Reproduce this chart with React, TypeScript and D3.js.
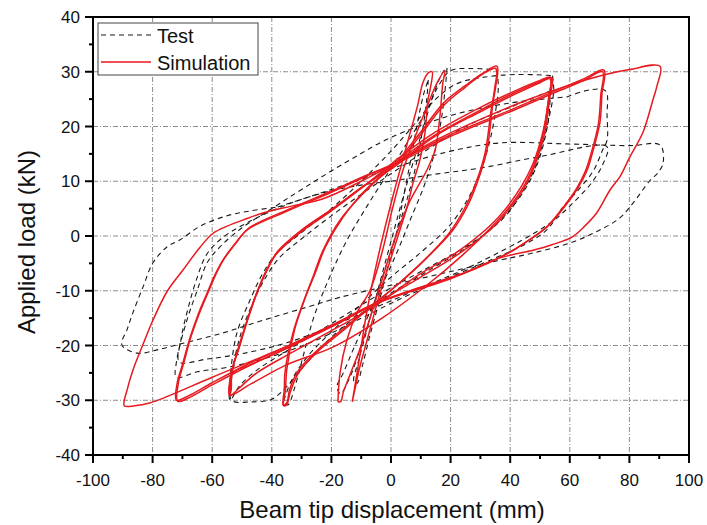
import React from 'react';
import * as d3 from 'd3';

type Pt = [number, number];

const xTicks = [-100, -80, -60, -40, -20, 0, 20, 40, 60, 80, 100];
const xMinor = [-90, -70, -50, -30, -10, 10, 30, 50, 70, 90];
const yTicks = [-40, -30, -20, -10, 0, 10, 20, 30, 40];
const yMinor = [-35, -25, -15, -5, 5, 15, 25, 35];

// simulation (red) loops, [displacement mm, load kN]
const sim13: Pt[] = [[-13,-30.3],[-12,-27],[-10.5,-22],[-8.5,-15],[-6,-8],[-2.7,0],[1,8],[4,14],[6.4,18.8],[9,24],[10.7,28],[12.5,29.8],[13.8,30],[13.2,27],[12.4,24.9],[11.4,18.8],[9.7,13.9],[7.4,9.7],[5.4,5.3],[3,1.1],[0,-4],[-4,-11],[-7.5,-18],[-10.5,-24],[-12.3,-28.5],[-13,-30.3]];
const sim18: Pt[] = [[-17.8,-30.3],[-17.1,-25],[-14.8,-19],[-11.4,-14],[-7,-9.9],[-3,-3],[0.5,5],[4,12],[8,18],[12,23.5],[15.5,28],[18.1,30.2],[17.4,28],[16.4,21.8],[14.8,15.7],[12,12],[6,6],[1,-1],[-3,-8],[-6.5,-14],[-10,-20],[-13.5,-25],[-16,-28.5],[-16.8,-30.2],[-17.8,-30.3]];
const sim35a: Pt[] = [[2,13.5],[10,19],[18,24.5],[25,27.5],[31,29.8],[35.6,31],[35.2,27.5],[34.2,24.3],[32.2,15.7],[28.9,9.7],[25.5,5.3],[20.8,1.1],[12,-4],[3,-8.5],[-6,-12.5],[-15,-16.5],[-25,-21],[-31,-24.5],[-34,-28],[-35,-30.5],[-36.2,-30.9],[-35.8,-28],[-35.6,-25],[-32.9,-17.7],[-29.5,-12.2],[-26.2,-7.5],[-22.8,-2.6],[-17,3],[-8,8.5],[2,13.5]];
const sim35b: Pt[] = [[2,13],[10,18.5],[18,24],[25,27.2],[30.5,29.5],[35.2,30.6],[34.8,27],[33.6,23],[31.5,15],[28,9],[24.5,4.8],[19.5,0.5],[11,-4.5],[2,-9],[-6.5,-12.8],[-15,-16.8],[-25,-21.3],[-31,-25],[-33.8,-28.5],[-35,-30.8],[-36,-31],[-35.4,-28],[-35,-24.5],[-32.3,-17],[-29,-11.6],[-25.6,-7],[-22,-2],[-16,3.5],[-7.5,9],[2,13]];
const sim53a: Pt[] = [[2,13.5],[15,18.5],[30,23],[42,26.3],[50,28.2],[54,28.9],[53.2,25],[52,20],[50.5,16.5],[48,12.5],[44.3,8.4],[39,4.5],[34.2,1.6],[23.2,-3.1],[10,-7.5],[-6,-12.5],[-20,-16.5],[-35,-20.5],[-47,-23.5],[-53,-25],[-53.6,-28],[-54,-29],[-53.5,-25],[-51.3,-20.8],[-48,-15],[-45,-10.4],[-41.5,-6],[-38.3,-3.1],[-30,1],[-20,4.8],[-10,8.8],[2,13.5]];
const sim53b: Pt[] = [[2,14],[15,19],[30,23.5],[42,26.6],[50,28.4],[53.6,29],[53,25.5],[51.6,20.5],[50,17],[47.5,13],[43.7,9],[38.5,5],[33.5,2],[22.5,-2.8],[9,-7.2],[-6,-13],[-20,-17.3],[-34,-21.5],[-45,-25],[-51,-27.8],[-54.2,-29.2],[-53.8,-26],[-51.8,-21.5],[-48.5,-15.8],[-45.5,-11],[-42,-6.5],[-38.8,-3.5],[-30.5,0.6],[-20.5,4.4],[-10.5,8.5],[2,14]];
const sim53c: Pt[] = [[2,13],[15,18.3],[30,22.7],[42,26],[50,28],[53.4,28.7],[52.6,24],[51.4,19.5],[49,14.5],[45.5,10],[40,5.5],[34,1.8],[24,-3.5],[12,-9],[-3,-15],[-19.5,-20.3],[-34.9,-23.5],[-47,-27],[-54,-29],[-53.4,-24.5],[-51,-20.5],[-47.8,-14.8],[-44.7,-10],[-41,-5.6],[-38,-2.8],[-29.5,1.3],[-19.5,5],[-9.5,9],[2,13]];
const sim71a: Pt[] = [[2,13.5],[20,18.5],[40,23],[55,26.5],[65,28.8],[71.5,30.3],[70.8,26],[70.1,20.7],[67.5,15],[65.8,12],[63,9],[60,6.6],[56,3.8],[52.3,1.6],[47,-0.5],[41,-2.6],[33,-4.8],[24.2,-6.8],[7.4,-9.8],[-6,-12.5],[-20,-16.3],[-35,-20.2],[-47.3,-23.2],[-60,-26.8],[-68,-29.2],[-72,-30],[-71.8,-27],[-70,-23.5],[-67.4,-18.5],[-64.5,-14],[-61.7,-10.4],[-59,-7],[-56.4,-4.4],[-52,-1.2],[-48.3,1.1],[-35,4.5],[-20,8],[-8,11],[2,13.5]];
const sim71b: Pt[] = [[2,13.2],[20,18.2],[40,22.7],[55,26.2],[65,28.5],[71,30],[70.4,25.8],[69.6,20.5],[67,14.8],[65.2,11.8],[62.4,8.8],[59.4,6.4],[55.4,3.6],[51.7,1.4],[46.4,-0.7],[40.4,-2.8],[32.4,-5],[23.6,-7],[6.8,-10],[-6.3,-12.7],[-20,-16.6],[-35,-20.5],[-47.3,-23.6],[-60,-27.2],[-68,-29.6],[-71.6,-30.2],[-71.4,-27],[-69.6,-23.3],[-67,-18.2],[-64,-13.7],[-61.2,-10.1],[-58.5,-6.7],[-55.9,-4.1],[-51.5,-0.9],[-47.8,1.4],[-34.6,4.8],[-19.6,8.3],[-7.8,11.2],[2,13.2]];
const sim89: Pt[] = [[2,13.5],[15,17.5],[30,21.3],[45,24.7],[60,27.6],[72,29.5],[80,30.4],[90.3,31],[89.3,27.5],[87.9,24.9],[84.6,19],[80.2,14.5],[77,11],[73.5,8.4],[69,4.2],[65,1.8],[60.7,-0.2],[54,-1.6],[47.7,-2.6],[36.6,-4],[20,-7.8],[-6,-12.5],[-20,-16.5],[-40,-21.3],[-60,-25.8],[-75,-29.3],[-81,-30.5],[-86,-31],[-89.5,-31],[-88.5,-28],[-86.6,-24.5],[-83,-19.5],[-79.9,-15.4],[-75,-10],[-69.8,-6.2],[-64,-2],[-59.7,0.5],[-55,1.8],[-49.7,2.9],[-43,4.2],[-33,5.5],[-22.8,6.8],[-10,10],[2,13.5]];

// test (black dashed) loops
const test12: Pt[] = [[12.5,28.5],[12,25],[10.5,19],[8,12],[5,6],[1.5,0],[-2,-6],[-5.5,-12],[-8.5,-18],[-11,-23],[-12.5,-26.5],[-11.5,-27],[-9.5,-23.5],[-7,-18],[-4,-12],[-1,-5.5],[2,1],[4.5,8],[7,15],[9,21],[11,26],[12.5,28.5]];
const test18: Pt[] = [[18.8,30.7],[18.2,27],[16.8,21],[14.5,15],[11,9],[6.5,3],[2,-3],[-3,-9],[-8,-15],[-12.5,-20.5],[-16,-25],[-18.1,-27.5],[-17,-28.8],[-13.8,-25.8],[-10,-20],[-6.5,-14],[-3,-7],[0.5,0],[4,7],[8,14.5],[11.5,21],[15,27],[17.5,30],[18.8,30.7]];
const test35: Pt[] = [[35.6,30.3],[36,27],[35,22.5],[33,17],[29.5,11],[25,6],[19,1.5],[10,-3],[0,-7.5],[-10,-12.5],[-20,-17.5],[-28,-22],[-33,-26],[-35.3,-29],[-36,-30.5],[-34.5,-30.8],[-32.5,-28],[-29.5,-22],[-26,-15],[-21,-8],[-15,-1],[-8,5.5],[-1,11.5],[6,17.5],[12,23],[16,27.5],[20,30.2],[27,30.6],[35.6,30.3]];
const test53a: Pt[] = [[54.2,29.3],[54.6,26.5],[53.2,22],[51,17],[48,12],[44,8],[39,4],[33,1],[25,-2],[10,-6.5],[-5,-11],[-20,-16],[-35,-21],[-45,-24.5],[-51,-27.5],[-54,-30],[-53.8,-25],[-51.7,-17.7],[-47.3,-11.7],[-43,-6.8],[-38.3,-3.1],[-31.5,0],[-20,5],[-10,10],[0,15.5],[8,20.5],[15,25],[22,27.8],[29.9,28.9],[42,29.5],[54.2,29.3]];
const test53b: Pt[] = [[53.5,26.5],[53,22],[51.5,17.5],[49,13],[45.5,9],[41,5.5],[35,2],[27,-1.5],[12,-6.5],[-3,-11.5],[-18,-17.5],[-28,-23],[-35,-27.5],[-40,-29.8],[-47,-30.3],[-53.5,-30],[-53.5,-26],[-51,-19],[-47,-13],[-42.5,-8],[-37.5,-4],[-30,-0.5],[-18,4.5],[-5,9.5],[10,15],[25,20],[40,23.5],[53.5,26.5]];
const test71a: Pt[] = [[59,25.4],[66.8,26.7],[72,26.5],[72.5,22],[72.5,17.5],[71,15.7],[68,12],[63,8.5],[57.7,5.3],[52.3,1.1],[45,-1.5],[35,-4],[20,-7.5],[5,-11],[-10,-15],[-25,-19],[-40,-22],[-55,-24],[-65,-24.8],[-72,-25.8],[-72,-23],[-68.5,-15.4],[-65,-9.9],[-61.7,-4.9],[-57.4,-2],[-50,1.5],[-40,5],[-30,8.5],[-15,13.5],[0,18],[20,22],[40,24.3],[59,25.4]];
const test71b: Pt[] = [[0,10],[15,11.3],[29.9,12.4],[50,14.5],[72.5,16.3],[71,13],[67,9.5],[61,6],[55,3],[48,0.5],[38,-2.5],[25,-6],[10,-9.5],[-5,-13],[-20,-16.5],[-35,-19.5],[-50,-21.5],[-62,-22.5],[-71,-23],[-70.5,-19],[-68,-13],[-65,-7.5],[-62,-3.5],[-57,-0.5],[-48,2.5],[-36,5.5],[-22,8],[-10,9.3],[0,10]];
const test90: Pt[] = [[-38,5.3],[-20,8.5],[0,12.3],[20,15.5],[36.6,17],[60,16.8],[80,16.5],[90.3,16.6],[91.3,13.3],[89.5,11.5],[87,10.2],[81.2,6],[76.8,3.3],[70.1,1.1],[61,-1.1],[47.7,-3.1],[36.6,-4.4],[20,-6.5],[0,-9],[-17.1,-11.2],[-28.2,-13],[-43,-15.4],[-56.4,-17.7],[-69.8,-19.6],[-78.5,-20.8],[-85.2,-21.4],[-90.3,-19.9],[-88.5,-17],[-86.6,-14],[-83.2,-9.3],[-79.9,-4.9],[-75.2,-2],[-70.8,-0.7],[-64,1.8],[-55,3.7],[-47,4.6],[-38,5.3]];

const simLoops = [sim13, sim18, sim35a, sim35b, sim53a, sim53b, sim53c, sim71a, sim71b, sim89];
const testLoops = [test12, test18, test35, test53a, test53b, test71a, test71b, test90];

const W = 707;
const H = 525;
const RED = '#e8191f';
const FONT = '"Liberation Sans", Arial, sans-serif';

export default function App() {
  const x = d3.scaleLinear().domain([-100, 100]).range([93, 689]);
  const y = d3.scaleLinear().domain([-40, 40]).range([455, 17]);
  const line = d3.line<Pt>()
    .x(d => x(d[0]))
    .y(d => y(d[1]))
    .curve(d3.curveCatmullRom.alpha(0.5));

  const [x0, x1] = x.range();
  const [y0, y1] = y.range();

  return (
    <svg width={W} height={H} style={{ position: 'absolute', left: 0, top: 0, background: '#fff' }}
      fontFamily={FONT}>
      <defs>
        <clipPath id="plot">
          <rect x={x0} y={y1} width={x1 - x0} height={y0 - y1} />
        </clipPath>
      </defs>

      {/* grid */}
      <g stroke="#8c8c8c" strokeWidth={1} strokeDasharray="5 2 1 2">
        {xTicks.slice(1, -1).map(t => (
          <line key={'gx' + t} x1={x(t)} x2={x(t)} y1={y1} y2={y0} />
        ))}
        {yTicks.slice(1, -1).map(t => (
          <line key={'gy' + t} x1={x0} x2={x1} y1={y(t)} y2={y(t)} />
        ))}
      </g>

      <g clipPath="url(#plot)" fill="none">
        {testLoops.map((d, i) => (
          <path key={'t' + i} d={line(d) || ''} stroke="#1a1a1a" strokeWidth={1.1} strokeDasharray="5 4" />
        ))}
        {simLoops.map((d, i) => (
          <path key={'s' + i} d={line(d) || ''} stroke={RED} strokeWidth={1.5} />
        ))}
      </g>

      {/* frame */}
      <rect x={x0} y={y1} width={x1 - x0} height={y0 - y1} fill="none" stroke="#000" strokeWidth={2} />

      {/* x ticks */}
      <g stroke="#000" strokeWidth={2}>
        {xTicks.map(t => <line key={'xt' + t} x1={x(t)} x2={x(t)} y1={y0} y2={y0 + 8} />)}
        {xMinor.map(t => <line key={'xm' + t} x1={x(t)} x2={x(t)} y1={y0} y2={y0 + 4} />)}
        {yTicks.map(t => <line key={'yt' + t} x1={x0 - 8} x2={x0} y1={y(t)} y2={y(t)} />)}
        {yMinor.map(t => <line key={'ym' + t} x1={x0 - 4} x2={x0} y1={y(t)} y2={y(t)} />)}
      </g>
      <g fontSize={17} fill="#111">
        {xTicks.map(t => (
          <text key={'xl' + t} x={x(t)} y={486} textAnchor="middle">{t}</text>
        ))}
        {yTicks.map(t => (
          <text key={'yl' + t} x={80} y={y(t) + 6} textAnchor="end">{t}</text>
        ))}
      </g>

      <text x={392} y={518} textAnchor="middle" fontSize={24} fill="#111">Beam tip displacement (mm)</text>
      <text transform="translate(35,242) rotate(-90)" textAnchor="middle" fontSize={24} fill="#111">Applied load (kN)</text>

      {/* legend */}
      <g>
        <rect x={98} y={23} width={160} height={52} fill="#fff" stroke="#444" strokeWidth={1} />
        <line x1={101} x2={151} y1={35} y2={35} stroke="#1a1a1a" strokeWidth={1.1} strokeDasharray="5 4" />
        <text x={157} y={43} fontSize={20} fill="#111">Test</text>
        <line x1={101} x2={151} y1={62} y2={62} stroke={RED} strokeWidth={1.5} />
        <text x={157} y={70} fontSize={20} fill="#111">Simulation</text>
      </g>
    </svg>
  );
}
